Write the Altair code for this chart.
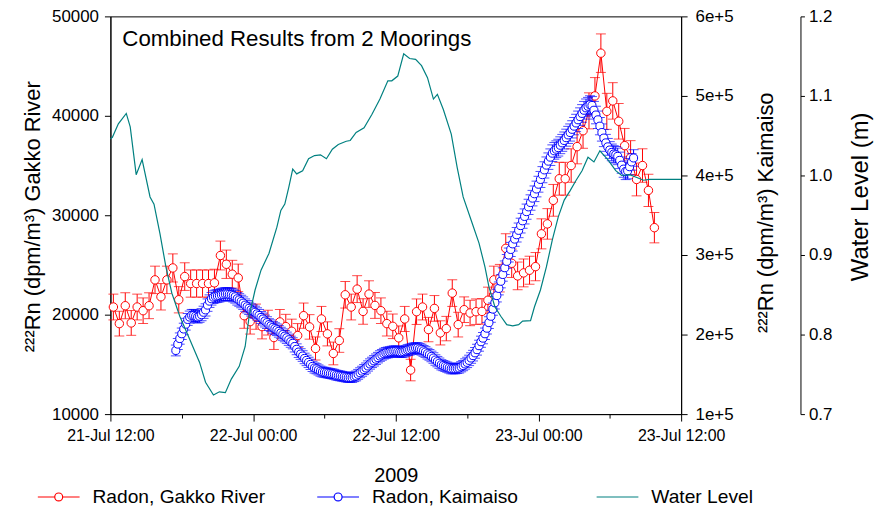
import altair as alt
import pandas as pd
import numpy as np

# ---------------- data ----------------
red_start = "2009-07-21 12:15"          # first Gakko River sample, 30-min step
red_values = [20770, 19100, 20900, 19170, 20770, 20400, 20900, 23500, 21800, 23500,
              24700, 21500, 23830, 23130, 23130, 23130, 23130, 23200, 25950, 25070,
              24070, 23700, 19900, 19300, 19800, 18800, 19200, 17700, 19270, 18800,
              18330, 17900, 19900, 18770, 16600, 19570, 18070, 16100, 17400, 22000,
              20770, 22570, 20330, 22070, 20930, 20400, 19100, 18830, 17670, 19570,
              14430, 20300, 20770, 18500, 20630, 18170, 18600, 22170, 19000, 20500,
              20170, 20300, 20330, 21450, 23500, 23670, 26670, 25170, 23900, 24200,
              24470, 24830, 28130, 29130, 31500, 33670, 33670, 35000, 36900, 38500,
              40500, 42000, 46300, 40450, 41500, 39450, 37000, 35800, 33600, 35000,
              32500, 28750]

blue_start = "2009-07-21 17:30"         # first Kaimaiso sample, 10-min step
blue_values_k = [180, 188, 195, 201, 207, 213, 219, 222, 224, 224,
                 223, 222, 223, 225, 228, 231, 237, 242, 245, 247,
                 248, 248.5, 249, 250, 250.5, 251, 251, 250.5, 250, 249,
                 247.5, 245, 243.5, 241.5, 239.5, 237, 235, 233, 231, 229.5,
                 228, 226, 224, 221.5, 219.5, 217, 215, 212.5, 211, 209,
                 207.5, 206, 204, 202, 200, 198, 196, 193.5, 191, 189,
                 185, 181.5, 178, 175.5, 173, 170, 167.5, 165, 162.5, 160,
                 158, 157, 155.5, 154, 153, 152.5, 152, 151.5, 151, 150.5,
                 150, 149, 148.5, 148, 147.5, 147, 146.5, 146, 146, 146,
                 147, 148, 150, 152, 154, 156, 158, 160.5, 163, 165,
                 167, 169, 171, 173, 174.5, 176, 177, 177.5, 178, 178.5,
                 179, 179, 178.5, 178, 178, 178.5, 179.5, 180.5, 181, 182,
                 182.5, 183, 183, 182, 181, 179.5, 178, 176, 174.5, 172.5,
                 170.5, 168, 166, 164, 162, 161, 160, 159, 158, 157,
                 157, 157, 157.5, 158, 159.5, 161, 163, 165, 167.5, 170.5,
                 173.5, 177, 181, 186, 191, 195.5, 201, 208, 215, 223,
                 232, 240, 249, 258, 267, 275.5, 284, 292, 300, 307,
                 314, 320, 325.5, 331, 337, 343, 348.5, 354.5, 360.5, 366,
                 371.5, 377, 383, 389, 395, 401, 407, 413, 418, 423,
                 428, 431, 433, 435, 438, 441, 444, 447.5, 451, 454,
                 458, 462, 466, 470, 474, 478, 482, 485, 487, 489,
                 488, 482, 476, 470, 462, 454, 447, 441, 436, 432,
                 429, 427, 426, 424, 419, 413, 408, 405, 406, 411,
                 417, 422]

wl_origin = "2009-07-21 12:00"
wl_minutes = [0, 10, 40, 80, 100, 130, 160, 200, 220, 250,
              280, 310, 350, 400, 450, 480, 520, 550, 580, 610,
              650, 680, 700, 730, 760, 800, 840, 860, 880, 900,
              920, 940, 970, 1000, 1030, 1060, 1090, 1120, 1150, 1190,
              1210, 1240, 1280, 1320, 1360, 1400, 1420, 1450, 1480, 1510,
              1540, 1570, 1600, 1630, 1650, 1680, 1720, 1750, 1780, 1820,
              1860, 1890, 1910, 1940, 1970, 2000, 2030, 2060, 2080, 2120,
              2140, 2170, 2200, 2230, 2260, 2290, 2320, 2350, 2380, 2410,
              2440, 2470, 2510, 2550, 2580, 2620, 2650, 2690, 2720, 2880]
wl_values = [1.046, 1.048, 1.065, 1.078, 1.061, 1.001, 1.020, 0.973, 0.964, 0.927,
             0.885, 0.852, 0.823, 0.794, 0.765, 0.740, 0.724, 0.728, 0.727, 0.744,
             0.760, 0.785, 0.823, 0.856, 0.881, 0.902, 0.935, 0.956, 0.964, 0.985,
             1.008, 1.002, 1.006, 1.021, 1.025, 1.026, 1.021, 1.033, 1.039, 1.043,
             1.044, 1.054, 1.060, 1.077, 1.096, 1.119, 1.119, 1.125, 1.153, 1.147,
             1.146, 1.138, 1.123, 1.096, 1.102, 1.083, 1.052, 1.010, 0.973, 0.944,
             0.915, 0.885, 0.860, 0.835, 0.823, 0.8125, 0.811, 0.8125, 0.817, 0.8175,
             0.835, 0.856, 0.885, 0.919, 0.948, 0.969, 0.981, 0.994, 1.006, 1.023,
             1.017, 1.031, 1.020, 1.006, 1.000, 1.001, 0.998, 0.994, 0.995, 0.995]

series_names = ["Radon, Gakko River", "Radon, Kaimaiso", "Water Level"]
series_colors = ["#ff0000", "#0000ff", "#008080"]
x_ticks = ["2009-07-21 12:00", "2009-07-21 18:00", "2009-07-22 00:00", "2009-07-22 06:00",
           "2009-07-22 12:00", "2009-07-22 18:00", "2009-07-23 00:00", "2009-07-23 06:00",
           "2009-07-23 12:00"]
gakko_ticks = [10000, 20000, 30000, 40000, 50000]
kaimaiso_ticks = [100000, 200000, 300000, 400000, 500000, 600000]
wl_ticks = [0.7, 0.8, 0.9, 1.0, 1.1, 1.2]
annotation = "Combined Results from 2 Moorings"

RED, BLUE, TEAL = series_colors
FONT = "Liberation Sans"

# ---------------- tables ----------------
red = pd.DataFrame({"t": pd.date_range(red_start, periods=len(red_values), freq="30min"),
                    "v": red_values})
red["err"] = 9.0 * np.sqrt(red["v"])
red["lo"] = red["v"] - red["err"]
red["hi"] = red["v"] + red["err"]
red_caps = pd.concat([red[["t"]].assign(cap=red["lo"]), red[["t"]].assign(cap=red["hi"])])

blue = pd.DataFrame({"t": pd.date_range(blue_start, periods=len(blue_values_k), freq="10min"),
                     "v": np.array(blue_values_k) * 1000.0})
blue["err"] = 16.0 * np.sqrt(blue["v"])
blue["lo"] = blue["v"] - blue["err"]
blue["hi"] = blue["v"] + blue["err"]
blue_caps = pd.concat([blue[["t"]].assign(cap=blue["lo"]), blue[["t"]].assign(cap=blue["hi"])])

wl = pd.DataFrame({"t": pd.Timestamp(wl_origin) + pd.to_timedelta(wl_minutes, unit="min"),
                   "wl": wl_values})

legend_df = pd.DataFrame({"series": series_names})


def dt(s):
    ts = pd.Timestamp(s)
    return alt.DateTime(year=ts.year, month=ts.month, date=ts.day, hours=ts.hour, minutes=ts.minute)


xs = alt.Scale(domain=[dt(x_ticks[0]), dt(x_ticks[-1])])
major = "hours(datum.value) % 12 == 0"
x_axis = alt.Axis(values=[dt(s) for s in x_ticks], orient="bottom",
                  labelExpr=f"{major} ? timeFormat(datum.value, '%d-%b %H:%M') : ''",
                  tickSize={"condition": {"test": major, "value": 7}, "value": 4},
                  labelPadding=7, labelFlush=False, labelOverlap=False,
                  labelFontSize=16, title="2009", titleFontSize=20,
                  titleBaseline="alphabetic", titleY=68)
X = alt.X("t:T", scale=xs, axis=x_axis)

ys_red = alt.Scale(domain=[10000, 50000], nice=False, zero=False)
ys_blue = alt.Scale(domain=[100000, 600000], nice=False, zero=False)
ys_wl = alt.Scale(domain=[0.7, 1.2], nice=False, zero=False)

gakko_axis = alt.Axis(orient="left", values=gakko_ticks, format="d", tickSize=6, labelPadding=6,
                      labelFontSize=17, title="²²²Rn (dpm/m³) Gakko River", titleFontSize=22,
                      titleAngle=270, titleBaseline="alphabetic", titleAlign="center",
                      titleX=-71, titleY=201)
kaimaiso_axis = alt.Axis(orient="right", values=kaimaiso_ticks, tickSize=6, labelPadding=8,
                         labelExpr="format(datum.value / 100000, 'd') + 'e+5'",
                         labelFontSize=17, title="²²²Rn (dpm/m³) Kaimaiso", titleFontSize=22,
                         titleAngle=270, titleBaseline="alphabetic", titleAlign="center",
                         titleX=92, titleY=197)
wl_axis = alt.Axis(orient="right", offset=120, values=wl_ticks, format=".1f", tickSize=4,
                   labelPadding=4, labelFontSize=17, title="Water Level (m)", titleFontSize=24,
                   titleAngle=270, titleBaseline="alphabetic", titleAlign="center",
                   titleX=67, titleY=181)


def series_layers(df, caps, color, yscale, yaxis, size, cap_w):
    rule = alt.Chart(df).mark_rule(color=color, strokeWidth=1).encode(
        x=X, y=alt.Y("lo:Q", scale=yscale, axis=None), y2="hi:Q")
    cap = alt.Chart(caps).mark_tick(color=color, orient="horizontal", size=cap_w, thickness=1).encode(
        x=X, y=alt.Y("cap:Q", scale=yscale, axis=None))
    line = alt.Chart(df).mark_line(color=color, strokeWidth=1).encode(
        x=X, y=alt.Y("v:Q", scale=yscale, axis=None))
    pts = alt.Chart(df).mark_point(shape="circle", filled=True, fill="white", stroke=color,
                                   strokeWidth=1, size=size, opacity=1).encode(
        x=X, y=alt.Y("v:Q", scale=yscale, axis=yaxis))
    return [rule, cap, line, pts]


red_layers = series_layers(red, red_caps, RED, ys_red, gakko_axis, 72, 10)
blue_layers = series_layers(blue, blue_caps, BLUE, ys_blue, kaimaiso_axis, 66, 10)

water = alt.Chart(wl).mark_line(color=TEAL, strokeWidth=1.2).encode(
    x=X, y=alt.Y("wl:Q", scale=ys_wl, axis=wl_axis))

P_CIRC = "M-1,0L-0.19,0M0.19,0L1,0M0.19,0A0.19,0.19,0,1,1,-0.19,0A0.19,0.19,0,1,1,0.19,0"
P_LINE = "M-1,0L1,0"
leg = alt.Legend(orient="none", legendX=-74, legendY=461, direction="horizontal", columns=3,
                 title=None, symbolSize=1764, symbolStrokeWidth=1.2, symbolOpacity=1,
                 labelFontSize=19.3, labelFont=FONT, labelColor="black", labelOffset=12,
                 columnPadding=49, gridAlign="all", labelLimit=400)
legend_layer = alt.Chart(legend_df).mark_point(filled=False, opacity=0).encode(
    x=alt.value(0), y=alt.value(0),
    color=alt.Color("series:N", scale=alt.Scale(domain=series_names, range=series_colors), legend=leg),
    shape=alt.Shape("series:N", scale=alt.Scale(domain=series_names, range=[P_CIRC, P_CIRC, P_LINE]),
                    legend=leg))

chart = alt.layer(*red_layers, *blue_layers, water, legend_layer).resolve_scale(
    y="independent").properties(
    width=574, height=400,
    padding={"left": 103, "top": 7, "right": 200, "bottom": 92},
    autosize=alt.AutoSizeParams(type="none"),
    title=alt.TitleParams(annotation, anchor="start", frame="group", orient="top", offset=0,
                          dx=12, dy=61, baseline="alphabetic", fontSize=22.4, font=FONT,
                          fontWeight="normal", color="black"),
).configure_axis(
    labelFont=FONT, titleFont=FONT, titleFontWeight="normal", labelColor="black",
    titleColor="black", domainColor="black", tickColor="black", grid=False
).configure_view(stroke="black", strokeWidth=1)

chart.save("out.html", embed_options={"renderer": "svg", "actions": False})
